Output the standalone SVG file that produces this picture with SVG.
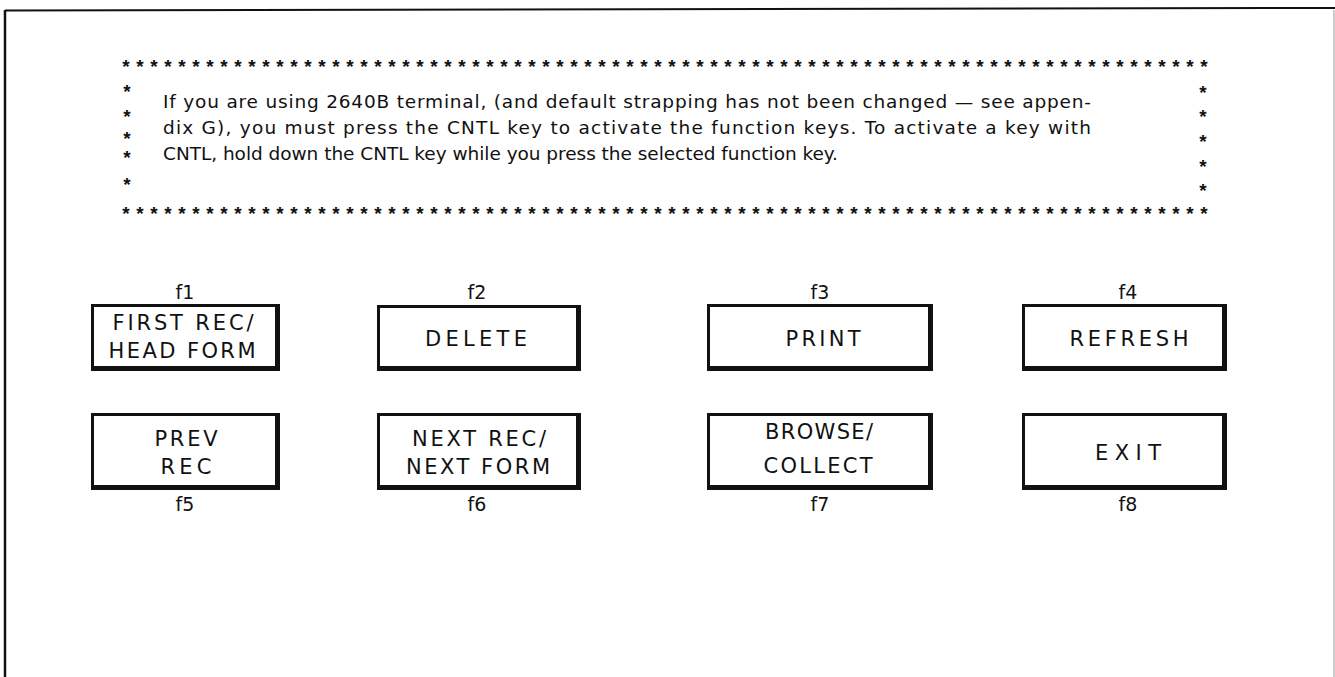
<svg xmlns="http://www.w3.org/2000/svg" width="1335" height="677" viewBox="0 0 1335 677">
<style>
.t{font-family:"DejaVu Sans","Liberation Sans",sans-serif;font-size:18.5px;fill:#111}
.b{font-family:"DejaVu Sans","Liberation Sans",sans-serif;font-size:21px;fill:#111;text-anchor:middle}
.f{font-family:"DejaVu Sans","Liberation Sans",sans-serif;font-size:19px;fill:#111;text-anchor:middle}
.s{font-family:"Liberation Sans",Arial,sans-serif;font-size:19px;font-weight:bold;fill:#111;text-anchor:middle}
.o{fill:#111}
.i{fill:#fff}
</style>
<rect width="1335" height="677" fill="#fff"/>
<g id="frame">
<line x1="5" y1="10.5" x2="1335" y2="8" stroke="#111" stroke-width="2"/>
<line x1="5" y1="10" x2="5" y2="677" stroke="#111" stroke-width="2.5"/>
<line x1="1334" y1="10" x2="1334" y2="677" stroke="#bbb" stroke-width="1.5"/>
</g>
<g id="note">
<text class="s" y="73" x="126 140 154 168 182 196 210 224 238 252 266 280 294 308 322 336 350 364 378 392 406 420 434 448 462 476 490 504 518 532 546 560 574 588 602 616 630 644 658 672 686 700 714 728 742 756 770 784 798 812 826 840 854 868 882 896 910 924 938 952 966 980 994 1008 1022 1036 1050 1064 1078 1092 1106 1120 1134 1148 1162 1176 1190 1204">******************************************************************************</text>
<text class="s" y="220" x="126 140 154 168 182 196 210 224 238 252 266 280 294 308 322 336 350 364 378 392 406 420 434 448 462 476 490 504 518 532 546 560 574 588 602 616 630 644 658 672 686 700 714 728 742 756 770 784 798 812 826 840 854 868 882 896 910 924 938 952 966 980 994 1008 1022 1036 1050 1064 1078 1092 1106 1120 1134 1148 1162 1176 1190 1204">******************************************************************************</text>
<text class="s" x="127" y="98">*</text>
<text class="s" x="127" y="123">*</text>
<text class="s" x="127" y="145">*</text>
<text class="s" x="127" y="164">*</text>
<text class="s" x="127" y="191">*</text>
<text class="s" x="1203" y="99">*</text>
<text class="s" x="1203" y="123">*</text>
<text class="s" x="1203" y="148">*</text>
<text class="s" x="1203" y="173">*</text>
<text class="s" x="1203" y="197">*</text>
<text class="t" x="163" y="108" textLength="928" lengthAdjust="spacing">If you are using 2640B terminal, (and default strapping has not been changed — see appen-</text>
<text class="t" x="163" y="134" textLength="928" lengthAdjust="spacing">dix G), you must press the CNTL key to activate the function keys. To activate a key with</text>
<text class="t" x="163" y="160" textLength="675" lengthAdjust="spacing">CNTL, hold down the CNTL key while you press the selected function key.</text>
</g>
<g id="key-f1">
<text class="f" x="185" y="299">f1</text>
<rect class="o" x="91" y="304" width="189" height="67"/>
<rect class="i" x="94" y="307" width="181" height="59"/>
<text class="b" x="183" y="330" textLength="141" lengthAdjust="spacing">FIRST REC/</text>
<text class="b" x="182" y="358" textLength="147" lengthAdjust="spacing">HEAD FORM</text>
</g>
<g id="key-f2">
<text class="f" x="477" y="299">f2</text>
<rect class="o" x="377" y="305" width="204" height="66"/>
<rect class="i" x="380" y="308" width="196" height="58"/>
<text class="b" x="476" y="346" textLength="102" lengthAdjust="spacing">DELETE</text>
</g>
<g id="key-f3">
<text class="f" x="820" y="299">f3</text>
<rect class="o" x="707" y="304" width="226" height="67"/>
<rect class="i" x="710" y="307" width="218" height="59"/>
<text class="b" x="823" y="346" textLength="75" lengthAdjust="spacing">PRINT</text>
</g>
<g id="key-f4">
<text class="f" x="1128" y="299">f4</text>
<rect class="o" x="1022" y="304" width="205" height="67"/>
<rect class="i" x="1025" y="307" width="197" height="59"/>
<text class="b" x="1129" y="346" textLength="119" lengthAdjust="spacing">REFRESH</text>
</g>
<g id="key-f5">
<rect class="o" x="91" y="413" width="189" height="77"/>
<rect class="i" x="94" y="416" width="181" height="69"/>
<text class="b" x="186" y="446" textLength="63" lengthAdjust="spacing">PREV</text>
<text class="b" x="186" y="474" textLength="51" lengthAdjust="spacing">REC</text>
<text class="f" x="185" y="511">f5</text>
</g>
<g id="key-f6">
<rect class="o" x="377" y="413" width="204" height="77"/>
<rect class="i" x="380" y="416" width="196" height="69"/>
<text class="b" x="479" y="446" textLength="134" lengthAdjust="spacing">NEXT REC/</text>
<text class="b" x="478" y="474" textLength="144" lengthAdjust="spacing">NEXT FORM</text>
<text class="f" x="477" y="511">f6</text>
</g>
<g id="key-f7">
<rect class="o" x="707" y="413" width="226" height="77"/>
<rect class="i" x="710" y="416" width="218" height="69"/>
<text class="b" x="819" y="439" textLength="108" lengthAdjust="spacing">BROWSE/</text>
<text class="b" x="818" y="473" textLength="109" lengthAdjust="spacing">COLLECT</text>
<text class="f" x="820" y="511">f7</text>
</g>
<g id="key-f8">
<rect class="o" x="1022" y="413" width="205" height="77"/>
<rect class="i" x="1025" y="416" width="197" height="69"/>
<text class="b" x="1128" y="460" textLength="66" lengthAdjust="spacing">EXIT</text>
<text class="f" x="1128" y="511">f8</text>
</g>
<g id="connectors"></g>
</svg>
